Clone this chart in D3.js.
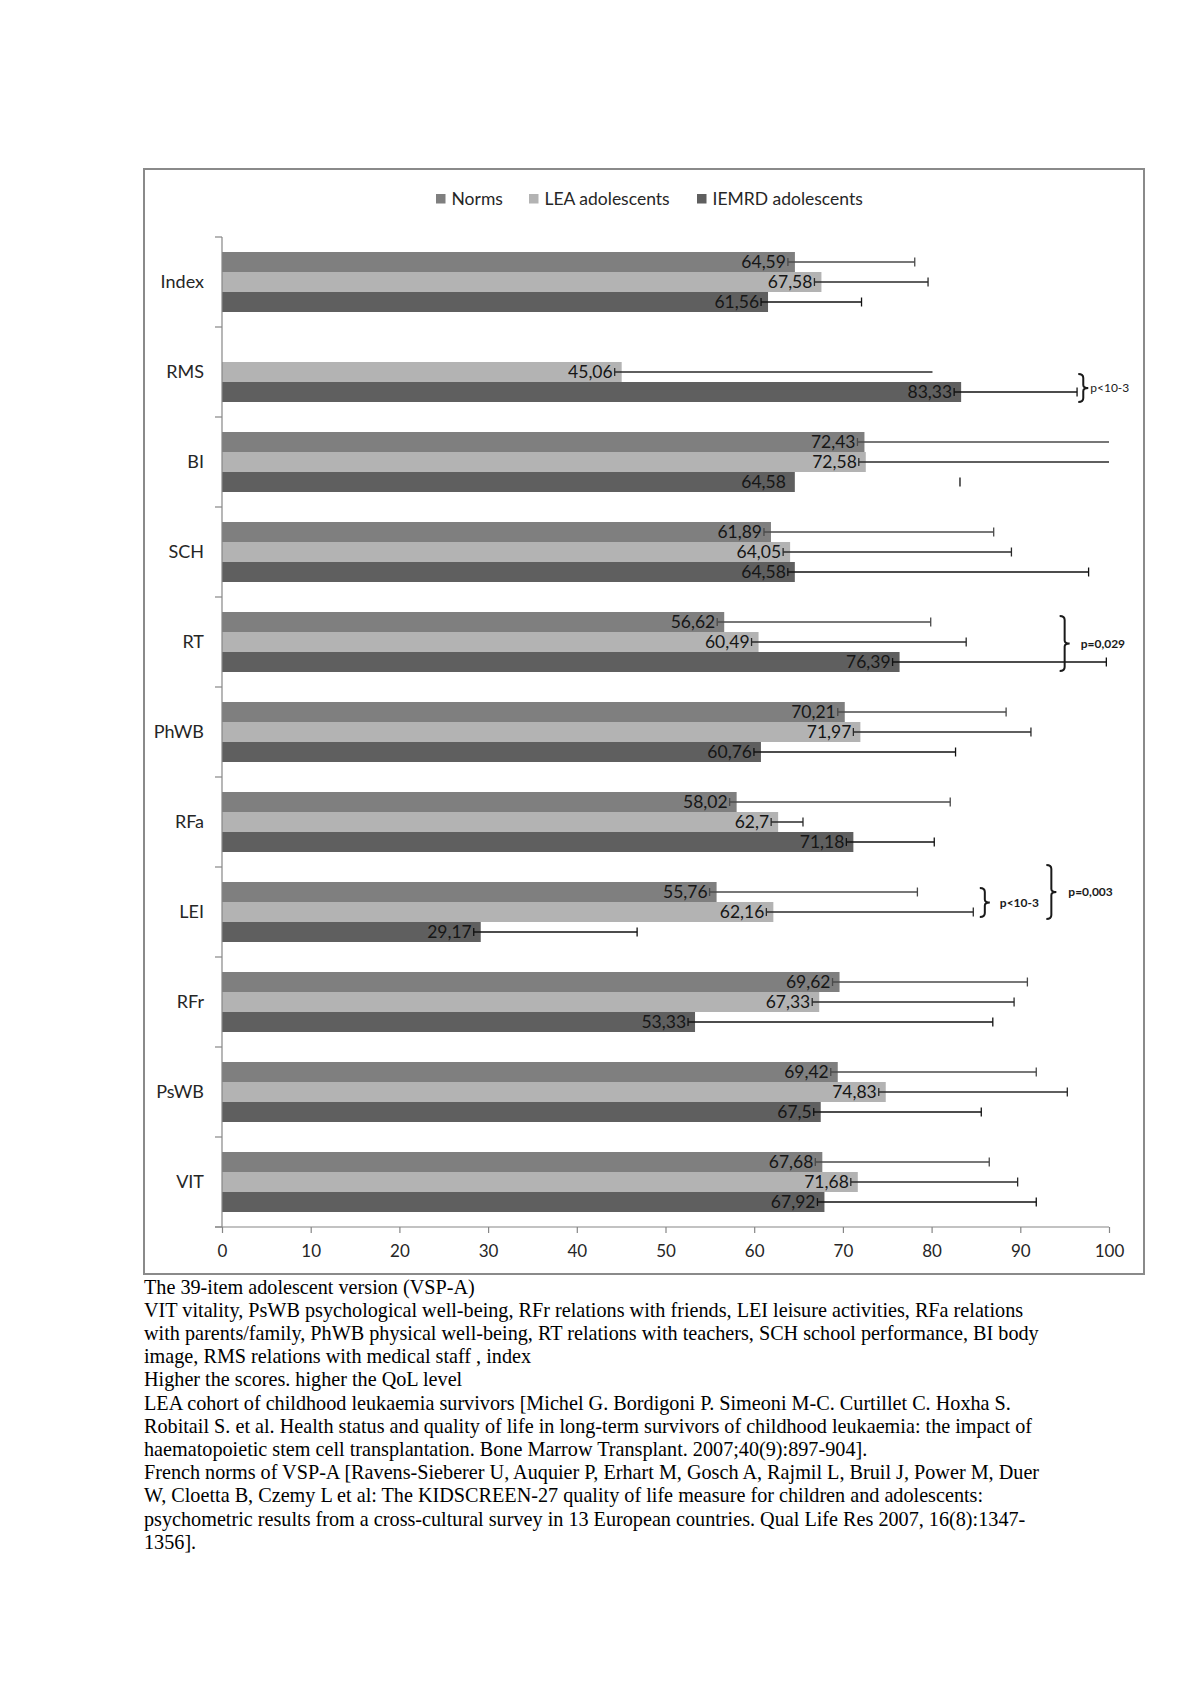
<!DOCTYPE html>
<html>
<head>
<meta charset="utf-8">
<script src="https://cdn.jsdelivr.net/npm/d3@7"></script>
<style>
  html, body { margin: 0; padding: 0; background: #fff; }
  svg { display: block; }
</style>
</head>
<body>
<svg id="chart" width="1200" height="1698"></svg>
<script>
// ---------------- data ----------------
const categories = ["Index", "RMS", "BI", "SCH", "RT", "PhWB", "RFa", "LEI", "RFr", "PsWB", "VIT"];
const seriesNames = ["Norms", "LEA adolescents", "IEMRD adolescents"];
const normsValues = [64.59, null, 72.43, 61.89, 56.62, 70.21, 58.02, 55.76, 69.62, 69.42, 67.68];
const leaValues   = [67.58, 45.06, 72.58, 64.05, 60.49, 71.97, 62.7, 62.16, 67.33, 74.83, 71.68];
const iemrdValues = [61.56, 83.33, 64.58, 64.58, 76.39, 60.76, 71.18, 29.17, 53.33, 67.5, 67.92];
const normsUpper  = [78.1, null, 100, 87.0, 79.9, 88.4, 82.1, 78.4, 90.8, 91.8, 86.5];
const leaUpper    = [79.6, 80.1, 100, 89.0, 83.9, 91.2, 65.5, 84.7, 89.3, 95.3, 89.7];
const iemrdUpper  = [72.1, 96.4, 83.2, 97.7, 99.7, 82.7, 80.3, 46.8, 86.9, 85.6, 91.8];
const xTicks = [0, 10, 20, 30, 40, 50, 60, 70, 80, 90, 100];
const capOnly = ["BI|IEMRD adolescents"];
const noEndCap = ["RMS|LEA adolescents"];
const significance = [
  { cat: "RMS", from: ["LEA adolescents", 0.6], to: ["IEMRD adolescents", 1.0], x: 97.1, label: "p<10-3", gap: 7, bold: false },
  { cat: "RT",  from: ["Norms", 0.2], to: ["IEMRD adolescents", 0.95], x: 95.0, label: "p=0,029", gap: 16, bold: true },
  { cat: "LEI", from: ["Norms", 0.3], to: ["LEA adolescents", 0.75], x: 86.0, label: "p<10-3", gap: 15, bold: true },
  { cat: "LEI", from: ["Norms", -0.85], to: ["LEA adolescents", 0.85], x: 93.5, label: "p=0,003", gap: 17, bold: true }
];
const captionLines = [
  "The 39-item adolescent version (VSP-A)",
  "VIT vitality, PsWB psychological well-being, RFr relations with friends, LEI leisure activities, RFa relations",
  "with parents/family, PhWB physical well-being, RT relations with teachers, SCH school performance, BI body",
  "image, RMS relations with medical staff , index",
  "Higher the scores. higher the QoL level",
  "LEA cohort of childhood leukaemia survivors [Michel G. Bordigoni P. Simeoni M-C. Curtillet C. Hoxha S.",
  "Robitail S. et al. Health status and quality of life in long-term survivors of childhood leukaemia: the impact of",
  "haematopoietic stem cell transplantation. Bone Marrow Transplant. 2007;40(9):897-904].",
  "French norms of VSP-A [Ravens-Sieberer U, Auquier P, Erhart M, Gosch A, Rajmil L, Bruil J, Power M, Duer",
  "W, Cloetta B, Czemy L et al: The KIDSCREEN-27 quality of life measure for children and adolescents:",
  "psychometric results from a cross-cultural survey in 13 European countries. Qual Life Res 2007, 16(8):1347-",
  "1356]."
];

// ---------------- styles ----------------
const colors = { "Norms": "#7f7f7f", "LEA adolescents": "#b3b3b3", "IEMRD adolescents": "#5f5f5f" };
const errColors = { "Norms": "#4a4a4a", "LEA adolescents": "#2a2a2a", "IEMRD adolescents": "#111" };
const sansFont = "Lato, 'Open Sans', 'DejaVu Sans', sans-serif";
const axisColor = "#868686";

const svg = d3.select("#chart");

// frame
svg.append("rect")
  .attr("x", 144).attr("y", 169).attr("width", 1000).attr("height", 1105)
  .attr("fill", "#fff").attr("stroke", "#8a8a8a").attr("stroke-width", 2);

// scales
const x = d3.scaleLinear().domain([0, 100]).range([222, 1109]);
const y = d3.scaleBand().domain(categories).range([237, 1227]).paddingInner(1 / 3).paddingOuter(1 / 6);
const ys = d3.scaleBand().domain(seriesNames).range([0, y.bandwidth()]).padding(0);

const rows = [];
const seriesVals = [normsValues, leaValues, iemrdValues];
const seriesUp = [normsUpper, leaUpper, iemrdUpper];
categories.forEach((c, i) => {
  seriesNames.forEach((s, k) => {
    if (seriesVals[k][i] != null) rows.push({ cat: c, series: s, value: seriesVals[k][i], upper: seriesUp[k][i] });
  });
});

// bars
svg.append("g").selectAll("rect").data(rows).join("rect")
  .attr("x", x(0))
  .attr("y", d => y(d.cat) + ys(d.series))
  .attr("width", d => x(d.value) - x(0))
  .attr("height", ys.bandwidth())
  .attr("fill", d => colors[d.series]);

// error bars
const eg = svg.append("g");
rows.forEach(d => {
  const cy = y(d.cat) + ys(d.series) + ys.bandwidth() / 2;
  const key = d.cat + "|" + d.series;
  const x0 = x(d.value) - 7;
  const x1 = x(Math.min(d.upper, 100));
  const col = errColors[d.series];
  if (!capOnly.includes(key)) {
    eg.append("line").attr("x1", x0).attr("x2", x1).attr("y1", cy).attr("y2", cy)
      .attr("stroke", col).attr("stroke-width", 1.5);
    eg.append("line").attr("x1", x0).attr("x2", x0).attr("y1", cy - 4).attr("y2", cy + 4)
      .attr("stroke", col).attr("stroke-width", 1.3);
  }
  if (d.upper < 100 && !noEndCap.includes(key)) {
    eg.append("line").attr("x1", x1).attr("x2", x1).attr("y1", cy - 4.5).attr("y2", cy + 4.5)
      .attr("stroke", col).attr("stroke-width", 1.3);
  }
});

// value labels
svg.append("g").selectAll("text").data(rows).join("text")
  .attr("x", d => x(d.value) - 9)
  .attr("y", d => y(d.cat) + ys(d.series) + ys.bandwidth() / 2)
  .attr("dy", "0.36em")
  .attr("text-anchor", "end")
  .attr("font-family", sansFont)
  .attr("font-size", 17.5)
  .attr("fill", "#161616")
  .text(d => String(d.value).replace(".", ","));

// y axis (category)
const yAxisG = svg.append("g");
yAxisG.append("line").attr("x1", x(0)).attr("x2", x(0))
  .attr("y1", y.range()[0]).attr("y2", y.range()[1])
  .attr("stroke", axisColor).attr("stroke-width", 1.2);
d3.range(categories.length + 1).forEach(i => {
  const ty = y.range()[0] + i * y.step();
  yAxisG.append("line").attr("x1", x(0) - 7).attr("x2", x(0)).attr("y1", ty).attr("y2", ty)
    .attr("stroke", axisColor).attr("stroke-width", 1.2);
});
yAxisG.selectAll("text").data(categories).join("text")
  .attr("x", x(0) - 18)
  .attr("y", d => y(d) + y.bandwidth() / 2)
  .attr("dy", "0.36em")
  .attr("text-anchor", "end")
  .attr("font-family", sansFont)
  .attr("font-size", 18)
  .attr("fill", "#262626")
  .text(d => d);

// x axis
const xAxisG = svg.append("g").attr("transform", `translate(0,${y.range()[1]})`)
  .call(d3.axisBottom(x).tickValues(xTicks).tickSize(6).tickSizeOuter(0).tickPadding(12));
xAxisG.select(".domain").attr("stroke", axisColor).attr("stroke-width", 1.2)
  .attr("d", `M${x(0) - 7},0H${x(100)}`);
xAxisG.selectAll(".tick line").attr("stroke", axisColor).attr("stroke-width", 1.2);
xAxisG.selectAll(".tick text")
  .attr("font-family", sansFont).attr("font-size", 17).attr("fill", "#262626");

// legend
const legendItems = [
  { name: "Norms", x: 436 },
  { name: "LEA adolescents", x: 529 },
  { name: "IEMRD adolescents", x: 697 }
];
const lg = svg.append("g");
legendItems.forEach(it => {
  lg.append("rect").attr("x", it.x).attr("y", 194).attr("width", 9.5).attr("height", 9.5)
    .attr("fill", colors[it.name]);
  lg.append("text").attr("x", it.x + 15.5).attr("y", 199)
    .attr("dy", "0.36em")
    .attr("font-family", sansFont).attr("font-size", 17.5).attr("fill", "#262626")
    .text(it.name);
});

// significance braces
const sg = svg.append("g");
significance.forEach(a => {
  const bh = ys.bandwidth();
  const top = y(a.cat) + ys(a.from[0]) + a.from[1] * bh;
  const bot = y(a.cat) + ys(a.to[0]) + a.to[1] * bh;
  const mid = (top + bot) / 2;
  const bx = x(a.x);
  const p = d3.path();
  p.moveTo(bx - 5, top);
  p.quadraticCurveTo(bx, top, bx, top + 4);
  p.lineTo(bx, mid - 3);
  p.quadraticCurveTo(bx, mid, bx + 5, mid);
  p.quadraticCurveTo(bx, mid, bx, mid + 3);
  p.lineTo(bx, bot - 4);
  p.quadraticCurveTo(bx, bot, bx - 5, bot);
  sg.append("path").attr("d", p.toString()).attr("fill", "none")
    .attr("stroke", "#1a1a1a").attr("stroke-width", 2);
  sg.append("text").attr("x", bx + a.gap).attr("y", mid).attr("dy", "0.36em")
    .attr("font-family", sansFont).attr("font-size", 12)
    .attr("font-weight", a.bold ? "bold" : "normal")
    .attr("fill", "#1a1a1a").text(a.label);
});

// caption
svg.append("g").selectAll("text").data(captionLines).join("text")
  .attr("x", 144)
  .attr("y", (d, i) => 1293.5 + i * 23.2)
  .attr("font-family", "'Liberation Serif', 'Times New Roman', serif")
  .attr("font-size", 20.2)
  .attr("fill", "#000")
  .text(d => d);
</script>
</body>
</html>
